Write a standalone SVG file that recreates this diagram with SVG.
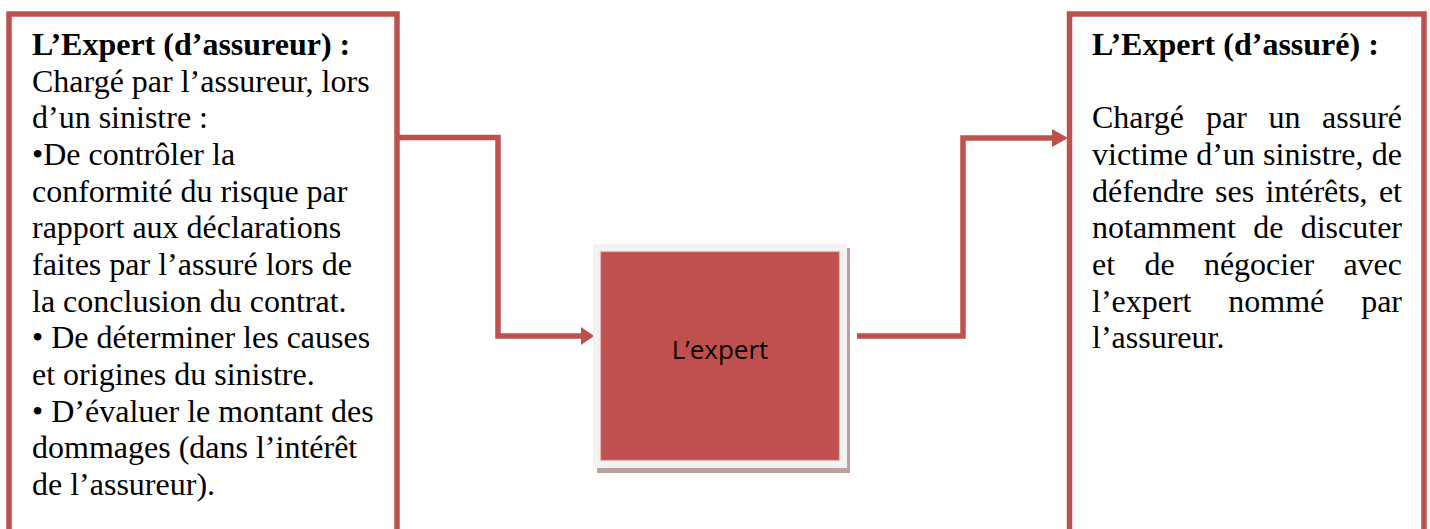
<svg xmlns="http://www.w3.org/2000/svg" width="1430" height="529" viewBox="0 0 1430 529">
<style>
.box{fill:#FFFFFF;stroke:#C0504D;stroke-width:5.5}
.conn{fill:none;stroke:#C0504D;stroke-width:5.5;stroke-linejoin:miter}
.head{fill:#C0504D}
.t{font-family:"Liberation Serif","Times New Roman",serif;font-size:32px;fill:#000}
.e{text-anchor:end}
.b{font-weight:bold}
.c{font-family:"Open Sans","Noto Sans",sans-serif;font-size:26px;fill:#000}
</style>
<rect width="1430" height="529" fill="#FFFFFF"/>
<g id="connectors">
<polyline class="conn" points="397,137.5 498,137.5 498,336 582,336"/>
<polygon class="head" points="581,327 594,336 581,345"/>
<polyline class="conn" points="857,336 963,336 963,138 1053,138"/>
<polygon class="head" points="1052,129 1068,138 1052,147"/>
</g>
<g id="node-expert-assureur">
<rect class="box" x="9" y="14" width="388" height="530"/>
<text class="t">
<tspan class="b" x="32" y="55">L’Expert (d’assureur) :</tspan>
<tspan x="32" y="91.7">Chargé par l’assureur, lors</tspan>
<tspan x="32" y="128.3">d’un sinistre :</tspan>
<tspan x="32" y="165">•De contrôler la</tspan>
<tspan x="32" y="201.7">conformité du risque par</tspan>
<tspan x="32" y="238.3">rapport aux déclarations</tspan>
<tspan x="32" y="275">faites par l’assuré lors de</tspan>
<tspan x="32" y="311.7">la conclusion du contrat.</tspan>
<tspan x="32" y="348.3">• De déterminer les causes</tspan>
<tspan x="32" y="385">et origines du sinistre.</tspan>
<tspan x="32" y="421.7">• D’évaluer le montant des</tspan>
<tspan x="32" y="458.3">dommages (dans l’intérêt</tspan>
<tspan x="32" y="495">de l’assureur).</tspan>
</text>
</g>
<g id="node-expert">
<rect x="597" y="248" width="253" height="225" fill="#BF9E9E"/>
<rect x="593" y="244" width="254" height="224" fill="#F2F2F2"/>
<rect x="601" y="252" width="238" height="208" fill="#C0504D" stroke="#D86A66" stroke-width="1"/>
<text class="c" x="720" y="359" text-anchor="middle">L’expert</text>
</g>
<g id="node-expert-assure">
<rect class="box" x="1069.5" y="14" width="354.5" height="530"/>
<text class="t b" x="1092" y="55">L’Expert (d’assuré) :</text>
<text class="t" y="128.3"><tspan x="1092">Chargé</tspan> <tspan x="1206">par</tspan> <tspan x="1268.4">un</tspan></text>
<text class="t e" x="1402" y="128.3">assuré</text>
<text class="t" y="165"><tspan x="1092">victime</tspan> <tspan x="1196.2">d’un</tspan> <tspan x="1263.1">sinistre,</tspan></text>
<text class="t e" x="1402" y="165">de</text>
<text class="t" y="201.7"><tspan x="1092">défendre</tspan> <tspan x="1215.1">ses</tspan> <tspan x="1265.4">intérêts,</tspan></text>
<text class="t e" x="1402" y="201.7">et</text>
<text class="t" y="238.3"><tspan x="1092">notamment</tspan> <tspan x="1253.3">de</tspan></text>
<text class="t e" x="1402" y="238.3">discuter</text>
<text class="t" y="275"><tspan x="1092">et</tspan> <tspan x="1144.4">de</tspan> <tspan x="1203.9">négocier</tspan></text>
<text class="t e" x="1402" y="275">avec</text>
<text class="t" y="311.7"><tspan x="1092">l’expert</tspan> <tspan x="1228.3">nommé</tspan></text>
<text class="t e" x="1402" y="311.7">par</text>
<text class="t" x="1092" y="348.3">l’assureur.</text>
</g>
</svg>
